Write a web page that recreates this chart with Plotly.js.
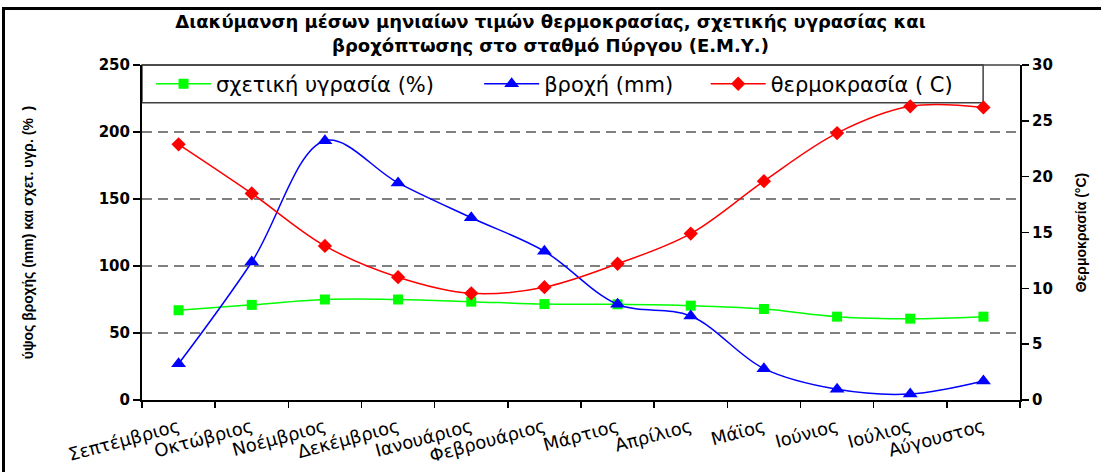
<!DOCTYPE html>
<html><head><meta charset="utf-8">
<script src="https://cdn.plot.ly/plotly-3.0.1.min.js"></script>
<style>
html,body{margin:0;padding:0;background:#fff;overflow:hidden;}
#chart{width:1101px;height:472px;}
#frame{position:absolute;left:2px;top:7px;width:1200px;height:600px;border-left:3px solid #000;border-top:3px solid #000;pointer-events:none;}
</style>
</head><body>
<div id="chart"></div><div id="frame"></div>
<script>
const months = ["Σεπτέμβριος","Οκτώβριος","Νοέμβριος","Δεκέμβριος","Ιανουάριος","Φεβρουάριος","Μάρτιος","Απρίλιος","Μάϊος","Ιούνιος","Ιούλιος","Αύγουστος"];
const humidity = [67, 71, 75, 75, 73.4, 71.6, 71.4, 70.4, 67.9, 62.2, 60.7, 62.2];
const rain = [27, 103, 193.5, 162, 136, 111, 71.4, 62.7, 23.4, 8, 4.5, 14.2];
const temperature = [22.9, 18.5, 13.8, 11.0, 9.55, 10.1, 12.2, 14.9, 19.6, 23.9, 26.3, 26.2];
const seriesNames = ["σχετική υγρασία (%)", "βροχή (mm)", "θερμοκρασία ( C)"];
const titleText = "Διακύμανση μέσων μηνιαίων τιμών θερμοκρασίας, σχετικής υγρασίας και<br>βροχόπτωσης στο σταθμό Πύργου (Ε.Μ.Υ.)";
const leftTitle = "ύψος βροχής (mm) και σχετ. υγρ. (%  )";
const rightTitle = "Θερμοκρασία (°C)";

const traces = [
  {x: months, y: humidity, name: seriesNames[0], type: 'scatter', mode: 'lines+markers',
   line: {color: '#00ff00', width: 1.5, shape: 'spline', smoothing: 1},
   marker: {symbol: 'square', size: 10, color: '#00ff00'}, legend: 'legend', yaxis: 'y'},
  {x: months, y: rain, name: seriesNames[1], type: 'scatter', mode: 'lines+markers',
   line: {color: '#0000ff', width: 1.5, shape: 'spline', smoothing: 1},
   marker: {symbol: 'triangle-up', size: 13, color: '#0000ff'}, legend: 'legend2', yaxis: 'y'},
  {x: months, y: temperature, name: seriesNames[2], type: 'scatter', mode: 'lines+markers',
   line: {color: '#ff0000', width: 1.5, shape: 'spline', smoothing: 1},
   marker: {symbol: 'diamond', size: 11, color: '#ff0000'}, legend: 'legend3', yaxis: 'y2'}
];

const legFont = {family: 'DejaVu Sans, sans-serif', size: 21, color: '#000'};
const legBase = {orientation: 'h', xref: 'paper', yref: 'paper', yanchor: 'middle', y: 0.943,
  xanchor: 'left', bgcolor: 'rgba(0,0,0,0)', borderwidth: 0, font: legFont, itemwidth: 55};
const numFont = {family: 'DejaVu Sans, sans-serif', size: 15, color: '#000', weight: 'bold'};

const layout = {
  width: 1101, height: 472,
  paper_bgcolor: '#fff', plot_bgcolor: '#fff',
  margin: {l: 142, r: 81, t: 65, b: 72, pad: 0},
  title: {text: titleText, font: {family: 'DejaVu Sans, sans-serif', size: 18, color: '#000', weight: 'bold'},
    xref: 'container', x: 0.5, xanchor: 'center', yref: 'container', y: 0.94, yanchor: 'middle'},
  xaxis: {type: 'category', range: [-0.5, 11.5], tickson: 'boundaries', ticks: 'outside', ticklen: 6,
    tickcolor: '#000', tickwidth: 1.5, showline: true, linecolor: '#000', linewidth: 2, showgrid: false,
    tickangle: -15, ticklabelstandoff: 8,
    tickfont: {family: 'DejaVu Sans, sans-serif', size: 18, color: '#000'}},
  yaxis: {range: [0, 250], dtick: 50, ticks: 'outside', ticklen: 7, tickcolor: '#000', tickwidth: 1.5,
    showline: true, linecolor: '#000', linewidth: 2, zeroline: false,
    showgrid: true, gridcolor: '#808080', gridwidth: 1.5, griddash: '10px,6px',
    tickfont: numFont,
    title: {text: leftTitle, standoff: 62, font: {family: 'Arial, Liberation Sans, sans-serif', size: 14, color: '#000', weight: 'bold'}}},
  yaxis2: {range: [0, 30], dtick: 5, overlaying: 'y', side: 'right', ticks: 'outside', ticklen: 7,
    tickcolor: '#000', tickwidth: 1.5, showline: true, linecolor: '#000', linewidth: 2, showgrid: false, zeroline: false,
    tickfont: numFont,
    title: {text: rightTitle, standoff: 24, font: {family: 'Arial, Liberation Sans, sans-serif', size: 14, color: '#000', weight: 'bold'}}},
  legend: Object.assign({}, legBase, {x: 0.0103}),
  legend2: Object.assign({}, legBase, {x: 0.384}),
  legend3: Object.assign({}, legBase, {x: 0.642}),
  shapes: [
    {type: 'rect', xref: 'paper', yref: 'paper', x0: 0, x1: 0.958, y0: 0.887, y1: 1,
     line: {color: '#404040', width: 1.5}, fillcolor: '#fff', layer: 'below'},
    {type: 'line', xref: 'paper', yref: 'paper', x0: 0, x1: 1, y0: 1, y1: 1,
     line: {color: '#404040', width: 1.5}, layer: 'above'}
  ],
  showlegend: true
};

Plotly.newPlot('chart', traces, layout, {displayModeBar: false, staticPlot: true});
</script>
</body></html>
